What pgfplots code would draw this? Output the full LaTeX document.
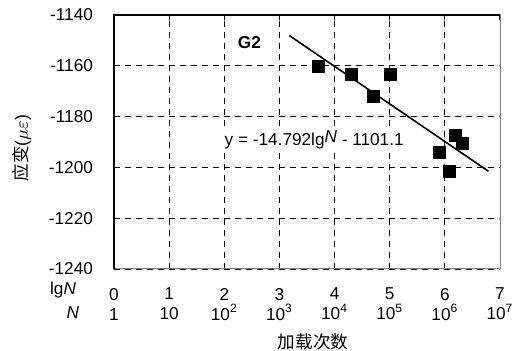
\documentclass[border=0pt]{standalone}
\usepackage{pgfplots}
\pgfplotsset{compat=1.18}
\usepackage{fontspec}
\setmainfont{Liberation Sans}
\newfontfamily\cjk{Noto Sans CJK SC}
\begin{document}
\begin{tikzpicture}
\path[use as bounding box] (-57pt,-41pt) rectangle (199.5pt,134.5pt);
\begin{axis}[
  name=ax,
  at={(0,0)}, anchor=south west,
  scale only axis, width=193pt, height=127pt,
  xmin=0, xmax=7, ymin=-1240, ymax=-1140,
  xtick={0,1,2,3,4,5,6,7},
  ytick={-1240,-1220,-1200,-1180,-1160,-1140},
  yticklabels={-1240,-1220,-1200,-1180,-1160,-1140},
  xticklabels={{0\\1},{1\\10},{2\\10\textsuperscript{2}},{3\\10\textsuperscript{3}},{4\\10\textsuperscript{4}},{5\\10\textsuperscript{5}},{6\\10\textsuperscript{6}},{7\\10\textsuperscript{7}}},
  xticklabel style={align=center, font=\fontsize{8.6}{10}\selectfont, yshift=-6pt},
  yticklabel style={font=\fontsize{8.6}{9.5}\selectfont, xshift=-7pt},
  tick align=inside,
  xtick pos=upper, xticklabel pos=lower,
  ytick pos=left, yticklabel pos=left,
  major tick length=2.5pt,
  tick style={black, line width=0.6pt},
  grid=major,
  major grid style={black, line width=0.4pt, dash pattern=on 3pt off 2.5pt},
  axis line style={gray, line width=0.5pt},
]
\addplot[only marks, mark=square*, mark size=3pt, black] coordinates {
  (3.70,-1160.4) (4.31,-1163.5) (5.02,-1163.5) (4.70,-1172.2)
  (5.90,-1194.1) (6.08,-1201.7) (6.20,-1187.6) (6.32,-1190.5)
};
\addplot[black, line width=0.8pt, no marks] coordinates {(3.18,-1148.1) (6.79,-1201.5)};
\node[anchor=west, font=\fontsize{8.6}{9.5}\selectfont\bfseries] at (axis cs:2.12,-1151) {G2};
\node[fill=white, inner sep=1.5pt, font=\fontsize{8.6}{9.5}\selectfont] at (axis cs:3.63,-1189.2) {y = -14.792lg\raisebox{1.5pt}{\textit{N}} - 1101.1};
\end{axis}
\draw[black, line width=1pt] (ax.south west) -- (ax.north west) -- (ax.north east);
\node[anchor=east, font=\fontsize{8.6}{9.5}\selectfont] at (-15.5pt,-10.5pt) {lg\textit{N}};
\node[anchor=east, font=\fontsize{8.6}{9.5}\selectfont] at (-14pt,-22pt) {\textit{N}};
\node[font=\fontsize{8.8}{10}\selectfont\cjk] at (99.5pt,-36.5pt) {加载次数};
\node[rotate=90, font=\fontsize{8.8}{10}\selectfont] at (-46pt,60.5pt) {{\cjk 应变}($\mu\varepsilon$)};
\end{tikzpicture}
\end{document}
